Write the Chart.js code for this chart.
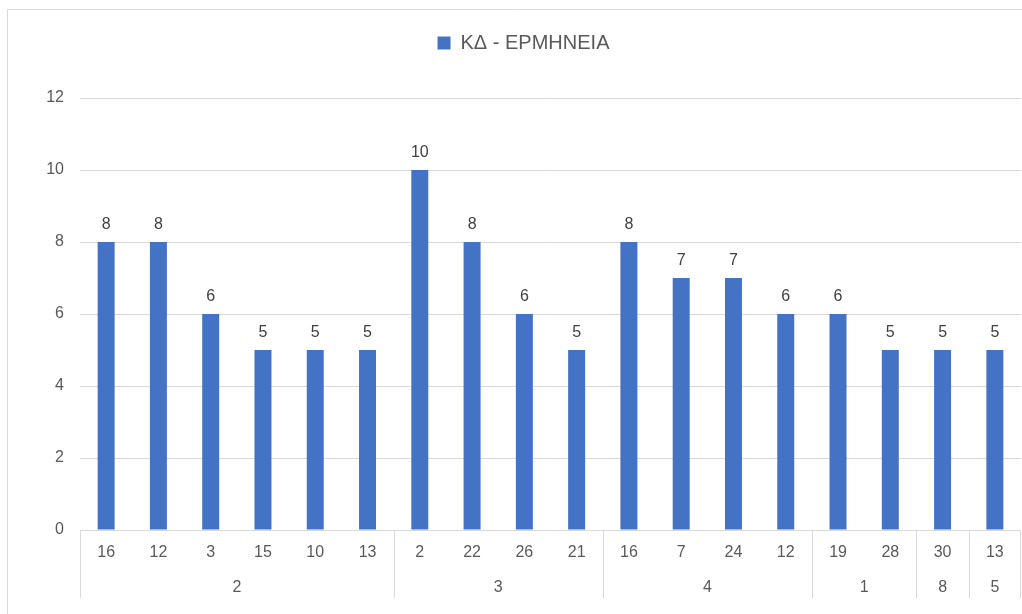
<!DOCTYPE html>
<html>
<head>
<meta charset="utf-8">
<script src="https://cdn.jsdelivr.net/npm/chart.js@4.4.1/dist/chart.umd.min.js"></script>
<style>
  html, body { margin: 0; padding: 0; background: #fff; }
  #wrap { width: 1022px; height: 614px; position: relative; }
</style>
</head>
<body>
<div id="wrap"><canvas id="chart"></canvas></div>
<script>
// données du graphique
const seriesName = 'ΚΔ - ΕΡΜΗΝΕΙΑ';
const subLabels = ['16', '12', '3', '15', '10', '13', '2', '22', '26', '21', '16', '7', '24', '12', '19', '28', '30', '13'];
const values = [8, 8, 6, 5, 5, 5, 10, 8, 6, 5, 8, 7, 7, 6, 6, 5, 5, 5];
const groupLabels = ['2', '3', '4', '1', '8', '5'];
const groupCounts = [6, 4, 4, 2, 1, 1];
const yTicks = [0, 2, 4, 6, 8, 10, 12];

const textColor = '#595959';
const lineColor = '#d9d9d9';
const barColor = '#4472c4';
const fontFamily = "'Liberation Sans', Arial, sans-serif";

/**
 * Cadre extérieur du graphique
 */
const framePlugin = {
  id: 'frame',
  beforeDraw(chart) {
    const ctx = chart.ctx;
    ctx.save();
    ctx.strokeStyle = lineColor;
    ctx.lineWidth = 1;
    ctx.beginPath();
    ctx.moveTo(7.5, chart.height);
    ctx.lineTo(7.5, 9.5);
    ctx.lineTo(chart.width, 9.5);
    ctx.stroke();
    ctx.restore();
  }
};

/**
 * Étiquettes de données au-dessus des barres
 */
const dataLabelPlugin = {
  id: 'dataLabels',
  afterDatasetsDraw(chart) {
    const ctx = chart.ctx;
    const meta = chart.getDatasetMeta(0);
    ctx.save();
    ctx.font = '16px ' + fontFamily;
    ctx.fillStyle = '#404040';
    ctx.textAlign = 'center';
    ctx.textBaseline = 'alphabetic';
    meta.data.forEach((bar, i) => {
      ctx.fillText(String(values[i]), bar.x, bar.y - 13);
    });
    ctx.restore();
  }
};

/**
 * Axe des catégories à deux niveaux (sous-catégories + groupes)
 */
const multiAxisPlugin = {
  id: 'multiAxis',
  afterDraw(chart) {
    const ctx = chart.ctx;
    const xs = chart.scales.x;
    const area = chart.chartArea;
    const half = (xs.getPixelForValue(1) - xs.getPixelForValue(0)) / 2;
    const bottom = area.bottom + 68;

    ctx.save();
    ctx.font = '16px ' + fontFamily;
    ctx.fillStyle = textColor;
    ctx.textAlign = 'center';
    ctx.textBaseline = 'middle';

    subLabels.forEach((lab, i) => {
      ctx.fillText(lab, xs.getPixelForValue(i), area.bottom + 23);
    });

    ctx.strokeStyle = lineColor;
    ctx.lineWidth = 1;
    let start = 0;
    groupLabels.forEach((lab, g) => {
      const end = start + groupCounts[g] - 1;
      const left = xs.getPixelForValue(start) - half;
      const right = xs.getPixelForValue(end) + half;
      ctx.beginPath();
      ctx.moveTo(Math.round(left) + 0.5, area.bottom);
      ctx.lineTo(Math.round(left) + 0.5, bottom);
      if (g === groupLabels.length - 1) {
        ctx.moveTo(Math.round(right) - 0.5, area.bottom);
        ctx.lineTo(Math.round(right) - 0.5, bottom);
      }
      ctx.stroke();
      ctx.fillText(lab, (left + right) / 2, area.bottom + 58);
      start = end + 1;
    });
    ctx.restore();
  }
};

/**
 * Espace supplémentaire sous la légende, et légende décalée vers la droite
 */
const legendSpacePlugin = {
  id: 'legendSpace',
  beforeInit(chart) {
    const fit = chart.legend.fit;
    chart.legend.fit = function() {
      fit.call(this);
      this.height += 35;
    };
  },
  afterLayout(chart) {
    chart.legend.left += 13;
    chart.legend.right += 13;
  }
};

const chart = new Chart(document.getElementById('chart'), {
  type: 'bar',
  data: {
    labels: subLabels,
    datasets: [{
      label: seriesName,
      data: values,
      backgroundColor: barColor,
      borderWidth: 0,
      barPercentage: 0.325,
      categoryPercentage: 1
    }]
  },
  options: {
    responsive: true,
    maintainAspectRatio: false,
    animation: false,
    layout: {
      padding: { top: 23, right: 1, left: 0, bottom: 0 }
    },
    plugins: {
      legend: {
        position: 'top',
        labels: {
          color: textColor,
          boxWidth: 13,
          boxHeight: 13,
          padding: 10,
          font: { size: 20, family: fontFamily }
        }
      },
      tooltip: { enabled: false }
    },
    scales: {
      x: {
        grid: { display: false },
        border: { display: false },
        ticks: { display: false },
        afterFit: scale => { scale.height = 84; }
      },
      y: {
        min: 0,
        max: 12,
        afterBuildTicks: scale => { scale.ticks = yTicks.map(v => ({ value: v })); },
        grid: { color: lineColor, drawTicks: false },
        border: { display: false },
        ticks: {
          color: textColor,
          padding: 16,
          font: { size: 16, family: fontFamily }
        },
        afterFit: scale => { scale.width = 80; }
      }
    }
  },
  plugins: [framePlugin, dataLabelPlugin, multiAxisPlugin, legendSpacePlugin]
});
</script>
</body>
</html>
